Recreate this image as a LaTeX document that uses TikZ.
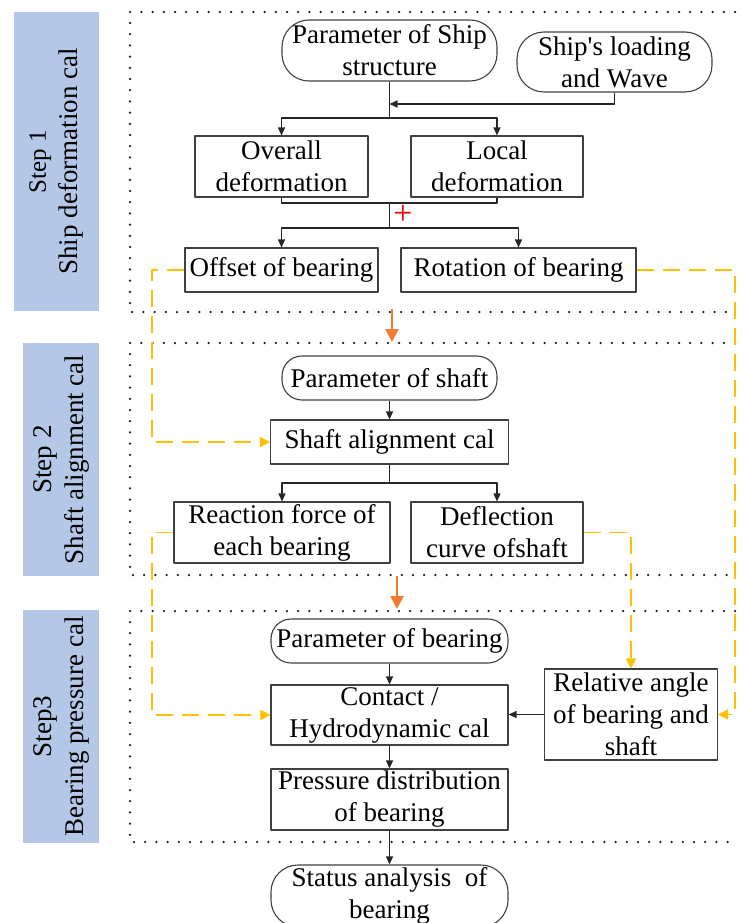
\documentclass[tikz,border=0pt]{standalone}
\usepackage{fontspec}
\setmainfont{Liberation Serif}[Ligatures=TeXOff]
\usetikzlibrary{arrows.meta}
\definecolor{sideblue}{RGB}{180,199,231}
\definecolor{linkyellow}{RGB}{255,192,0}
\definecolor{steporange}{RGB}{237,125,49}
\begin{document}
\begin{tikzpicture}[x=1pt, y=-1pt, line join=round, >={Triangle[length=8pt,width=7pt]},
	font=\fontsize{27}{32}\selectfont,
	box/.style 2 args={draw=black!75, line width=1.1pt, minimum width=#1, minimum height=#2, inner sep=0pt, align=center},
	term/.style 2 args={box={#1}{#2}, rounded corners=20pt},
	tall/.style={rounded corners=27pt},
	side/.style 2 args={fill=sideblue, rotate=90, minimum width=#1, minimum height=#2, inner sep=0pt, align=center},
	link/.style={black!85, line width=1.2pt},
	frame/.style={black!90, line width=2.5pt, dash pattern=on 0pt off 11.2pt, line cap=round},
	ydash/.style={linkyellow, line width=1.8pt, dash pattern=on 17pt off 9pt, -{Triangle[length=10pt,width=10pt]}},
	ostep/.style={steporange, line width=2.6pt, -{Triangle[length=13pt,width=13pt]}}]
	\useasboundingbox (0,0) rectangle (740,923);
	% dotted frames of the three steps
	\foreach \t/\b in {12/312, 343/575, 611/842}
		\draw[frame] (735,\t) -- (130,\t) -- (130,\b) -- (735,\b);
	% step labels
	\node[side={299pt}{85pt}] (step1) at (56.5,161.5) {\fontsize{25}{31}\selectfont Step 1\\Ship deformation cal};
	\node[side={233pt}{76pt}] (step2) at (61,459.5) {Step 2\\Shaft alignment cal};
	\node[side={233pt}{76pt}] (step3) at (61,726.5) {Step3\\Bearing pressure cal};
	% step 1
	\node[term={215pt}{61pt}, tall] (shippar) at (389.5,50.5) {Parameter of Ship\\structure};
	\node[term={195pt}{60pt}, tall] (load) at (614.5,62) {Ship's loading\\and Wave};
	\node[box={173pt}{61pt}] (overall) at (281.5,166.5) {Overall\\deformation};
	\node[box={172pt}{61pt}] (local) at (497,166.5) {Local\\deformation};
	\node[box={193pt}{44pt}] (offset) at (281.5,270) {Offset of bearing};
	\node[box={235pt}{44pt}] (rotation) at (518.5,270) {Rotation of bearing};
	\node[text=red, inner sep=0pt, font=\fontsize{34}{34}\selectfont] (plus) at (403,215) {+};
	% step 2
	\node[term={215pt}{44pt}] (shaftpar) at (389.5,378) {Parameter of shaft};
	\node[box={238pt}{44pt}] (align) at (389.5,442) {Shaft alignment cal};
	\node[box={216pt}{61pt}] (reaction) at (282,532.5) {Reaction force of\\each bearing};
	\node[box={172pt}{61pt}] (deflection) at (497,532.5) {Deflection\\curve ofshaft};
	% step 3
	\node[term={237pt}{44pt}] (bearpar) at (389.5,641) {Parameter of bearing};
	\node[box={237pt}{60pt}] (contact) at (389.5,715) {Contact /\\Hydrodynamic cal};
	\node[box={237pt}{61pt}] (pressure) at (389.5,799.5) {Pressure distribution\\of bearing};
	\node[box={173pt}{91pt}] (relative) at (631,714.5) {Relative angle\\of bearing and\\shaft};
	\node[term={237pt}{62pt}, tall] (status) at (389.5,896) {Status analysis\ \ of\\bearing};
	% joints
	\coordinate (join1) at (389.5,104);
	\coordinate (split1) at (389.5,118);
	\coordinate (merge1) at (389.5,203);
	\coordinate (split2) at (389.5,228);
	\coordinate (split3) at (389.5,483);
	\coordinate (lane1) at (152,0);
	\coordinate (lane2) at (735,0);
	\coordinate (out1) at (392,309);
	\coordinate (in2) at (392,342);
	\coordinate (out2) at (397,576);
	\coordinate (in3) at (397,609);
	% black connectors
	\draw[link,->] (load) |- (join1);
	\draw[link] (shippar) -- (split1);
	\draw[link,->] (split1) -| (overall);
	\draw[link,->] (split1) -| (local);
	\draw[link] (overall.south) |- (merge1) -| (local.south);
	\draw[link] (merge1) -- (split2);
	\draw[link,->] (split2) -| (offset);
	\draw[link,->] (split2) -| (rotation);
	\draw[link,->] (shaftpar) -- (align);
	\draw[link] (align) -- (split3);
	\draw[link,->] (split3) -| (reaction);
	\draw[link,->] (split3) -| (deflection);
	\draw[link,->] (bearpar) -- (contact);
	\draw[link,->] (contact) -- (pressure);
	\draw[link,->] (pressure) -- (status);
	\draw[link,->] (relative.west) -- (relative.west -| contact.east);
	% step arrows
	\draw[ostep] (out1) -- (in2);
	\draw[ostep] (out2) -- (in3);
	% yellow data links
	\draw[ydash] (offset.west) -- (offset.west -| lane1) |- (align.west);
	\draw[ydash] (reaction.west) -- (reaction.west -| lane1) |- (contact.west);
	\draw[ydash] (deflection.east) -| (relative.north);
	\draw[ydash] (rotation.east) -- (rotation.east -| lane2) |- (relative.east);
\end{tikzpicture}
\end{document}
